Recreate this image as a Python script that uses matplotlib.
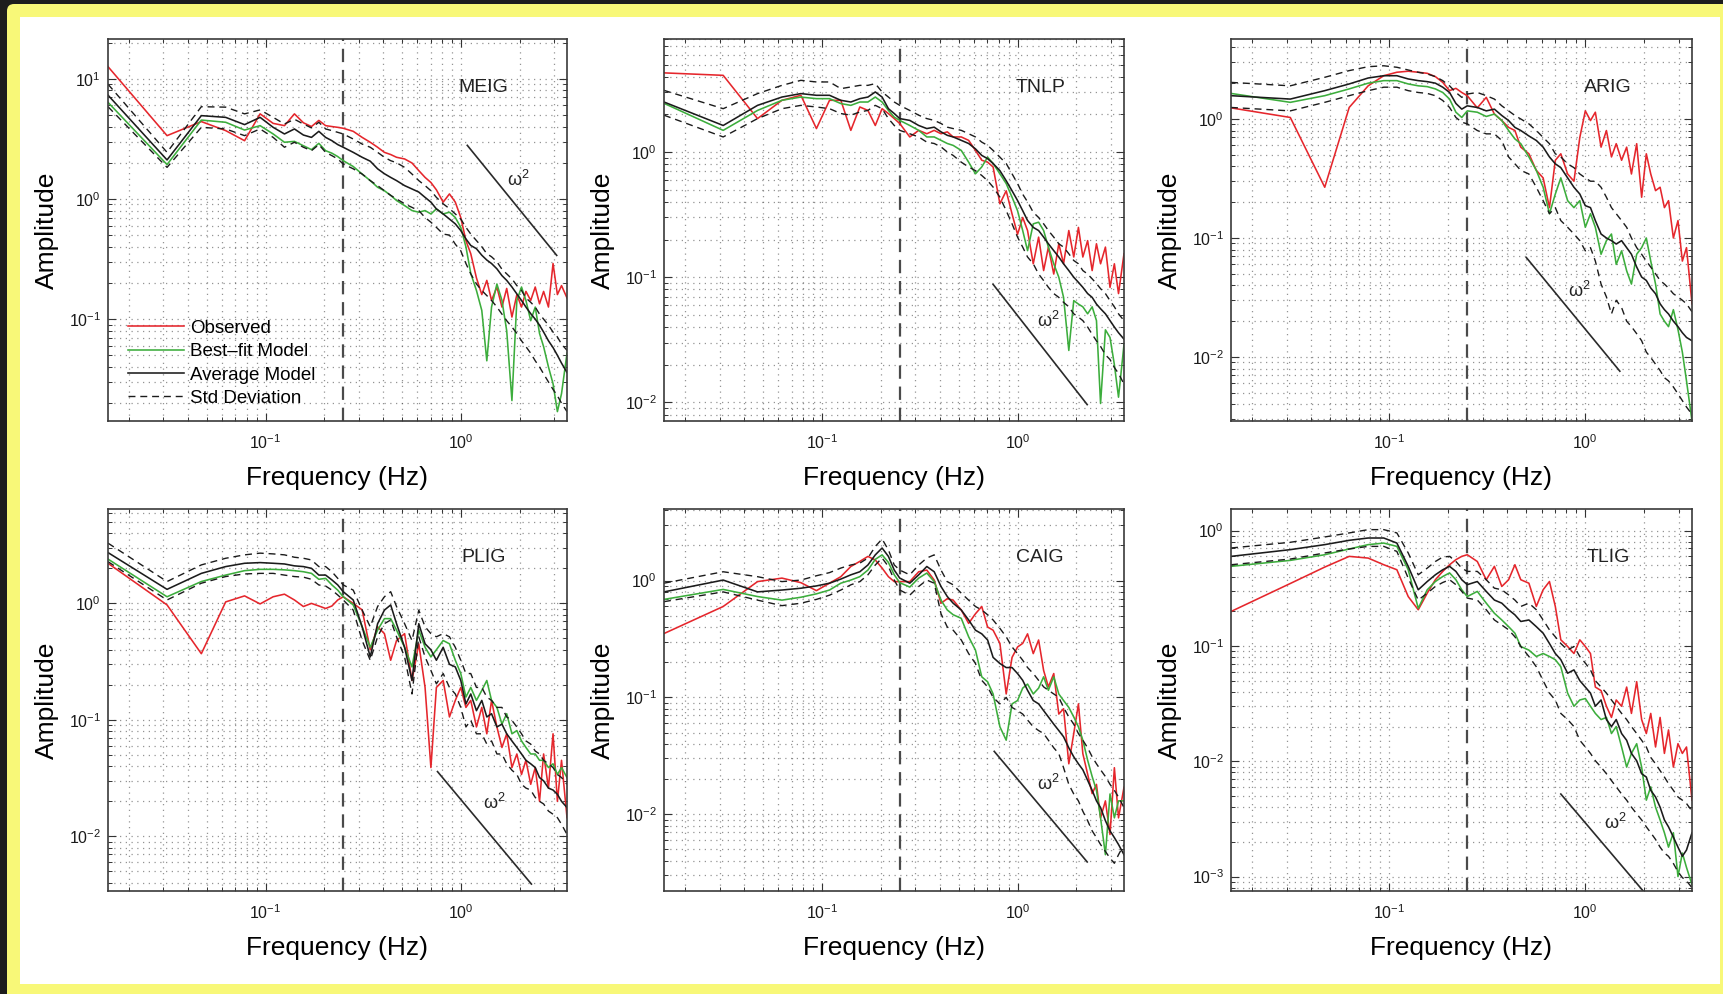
import numpy as np
import matplotlib
matplotlib.use("Agg")
import matplotlib.pyplot as plt
from matplotlib.patches import FancyBboxPatch, Rectangle
from matplotlib.ticker import LogLocator, NullFormatter

# ---------------------------------------------------------------- data
# FFT bin frequencies (Hz) shared by every station spectrum
freq_hz = [0.0156, 0.0313, 0.0469, 0.0625, 0.0781, 0.0938, 0.1094, 0.125,
           0.1406, 0.1563, 0.1719, 0.1875, 0.2031, 0.2188, 0.2344, 0.25,
           0.2813, 0.3125, 0.3438, 0.375, 0.4063, 0.4375, 0.4688, 0.5156,
           0.5625, 0.6094, 0.6563, 0.7031, 0.75, 0.8125, 0.875, 0.9375,
           1.0, 1.0625, 1.125, 1.2031, 1.2813, 1.3594, 1.4375, 1.5313,
           1.625, 1.7188, 1.8281, 1.9375, 2.0469, 2.1563, 2.2813, 2.4063,
           2.5313, 2.6563, 2.8125, 2.9688, 3.125, 3.2813, 3.5]

stations = ["MEIG", "TNLP", "ARIG", "PLIG", "CAIG", "TLIG"]

meig_obs = [12.6, 3.36, 4.4, 3.7, 3.05, 5.1, 4.25, 4.07, 5.1, 4.3, 4.0, 4.5, 4.07, 4.0, 3.94, 3.87,
            3.65, 3.25, 2.96, 2.69, 2.44, 2.34, 2.22, 2.15, 1.99, 1.72, 1.51, 1.37, 1.19, 0.94,
            1.1, 0.94, 0.70, 0.45, 0.35, 0.22, 0.16, 0.21, 0.143, 0.185, 0.126, 0.18, 0.104, 0.16,
            0.126, 0.17, 0.143, 0.185, 0.134, 0.17, 0.126, 0.29, 0.16, 0.19, 0.15]
meig_fit = [6.36, 1.93, 4.53, 4.34, 3.74, 4.07, 3.47, 2.96, 3.01, 2.77, 2.57, 2.9, 2.52, 2.4, 2.25, 2.08,
            1.86, 1.61, 1.42, 1.25, 1.17, 1.07, 0.97, 0.88, 0.80, 0.775, 0.80, 0.75, 0.826, 0.75,
            0.775, 0.70, 0.58, 0.40, 0.24, 0.173, 0.118, 0.045, 0.126, 0.196, 0.143, 0.08, 0.021,
            0.143, 0.185, 0.143, 0.097, 0.126, 0.076, 0.059, 0.04, 0.029, 0.017, 0.024, 0.052]
meig_avg = [7.3, 2.11, 4.93, 4.77, 4.15, 4.77, 3.94, 3.47, 3.82, 3.4, 3.25, 3.65, 3.25, 3.05, 2.83, 2.69,
            2.44, 2.22, 2.06, 1.78, 1.62, 1.51, 1.42, 1.29, 1.21, 1.14, 1.03, 0.94, 0.826, 0.75,
            0.68, 0.62, 0.545, 0.465, 0.41, 0.385, 0.34, 0.31, 0.29, 0.262, 0.23, 0.21, 0.185, 0.162,
            0.143, 0.126, 0.111, 0.10, 0.089, 0.078, 0.066, 0.058, 0.05, 0.043, 0.036]
meig_std_hi = [9.0, 2.44, 5.85, 5.8, 5.1, 5.5, 4.77, 4.2, 4.6, 4.2, 3.9, 4.34, 3.82, 3.7, 3.58, 3.47,
               3.15, 2.86, 2.69, 2.44, 2.22, 2.08, 2.0, 1.83, 1.61, 1.42, 1.29, 1.17, 1.03, 0.91,
               0.83, 0.75, 0.68, 0.58, 0.51, 0.45, 0.40, 0.35, 0.33, 0.30, 0.26, 0.238, 0.216, 0.19,
               0.173, 0.15, 0.138, 0.126, 0.11, 0.10, 0.089, 0.078, 0.071, 0.062, 0.055]
meig_std_lo = [5.85, 1.83, 3.94, 3.82, 3.36, 3.82, 3.25, 2.69, 2.96, 2.69, 2.52, 2.83, 2.44, 2.29, 2.15, 1.95,
               1.78, 1.61, 1.42, 1.29, 1.17, 1.07, 1.0, 0.91, 0.85, 0.80, 0.70, 0.64, 0.58, 0.51,
               0.50, 0.42, 0.37, 0.29, 0.238, 0.196, 0.173, 0.157, 0.143, 0.126, 0.11, 0.097, 0.086,
               0.076, 0.066, 0.059, 0.052, 0.045, 0.040, 0.035, 0.03, 0.026, 0.023, 0.02, 0.017]

tnlp_obs = [4.29, 4.1, 1.85, 2.59, 2.84, 1.54, 2.59, 2.59, 1.49, 2.29, 2.15, 1.63, 2.22, 2.03, 1.85, 1.69,
            1.32, 1.49, 1.40, 1.49, 1.40, 1.45, 1.32, 1.32, 1.24, 1.03, 0.86, 0.83, 0.76, 0.386,
            0.49, 0.32, 0.22, 0.30, 0.236, 0.128, 0.209, 0.113, 0.174, 0.106, 0.185, 0.128, 0.236,
            0.145, 0.25, 0.145, 0.196, 0.113, 0.185, 0.128, 0.174, 0.083, 0.128, 0.074, 0.154]
tnlp_fit = [2.45, 1.49, 2.15, 2.59, 2.75, 2.67, 2.67, 2.44, 2.36, 2.51, 2.51, 2.75, 2.51, 2.15, 1.9, 1.79,
            1.63, 1.49, 1.32, 1.32, 1.24, 1.17, 1.13, 1.03, 0.83, 0.67, 0.76, 0.91, 0.81, 0.67,
            0.56, 0.436, 0.34, 0.236, 0.163, 0.267, 0.275, 0.236, 0.174, 0.128, 0.1, 0.069, 0.026,
            0.065, 0.061, 0.058, 0.051, 0.058, 0.045, 0.0098, 0.038, 0.033, 0.02, 0.011, 0.029]
tnlp_avg = [2.51, 1.63, 2.36, 2.75, 2.93, 2.84, 2.84, 2.59, 2.51, 2.67, 2.75, 3.02, 2.75, 2.22, 2.03, 1.85,
            1.79, 1.63, 1.54, 1.58, 1.45, 1.36, 1.32, 1.24, 1.17, 1.06, 0.94, 0.885, 0.81, 0.71,
            0.59, 0.49, 0.41, 0.34, 0.284, 0.25, 0.236, 0.209, 0.185, 0.163, 0.145, 0.128, 0.113,
            0.1, 0.091, 0.083, 0.074, 0.069, 0.061, 0.056, 0.051, 0.045, 0.04, 0.036, 0.032]
tnlp_std_hi = [3.11, 2.22, 2.93, 3.41, 3.74, 3.63, 3.63, 3.21, 3.31, 3.41, 3.41, 3.52, 3.02, 2.75, 2.51, 2.36,
               2.15, 1.97, 1.85, 1.79, 1.69, 1.58, 1.54, 1.49, 1.40, 1.32, 1.20, 1.13, 1.03, 0.91,
               0.81, 0.67, 0.56, 0.46, 0.40, 0.33, 0.30, 0.267, 0.236, 0.209, 0.185, 0.174, 0.154,
               0.136, 0.128, 0.113, 0.106, 0.097, 0.089, 0.081, 0.074, 0.065, 0.058, 0.051, 0.045]
tnlp_std_lo = [1.97, 1.32, 1.85, 2.22, 2.36, 2.29, 2.22, 2.03, 1.97, 2.09, 2.15, 2.36, 2.22, 1.85, 1.63, 1.49,
               1.40, 1.32, 1.20, 1.17, 1.10, 1.0, 0.94, 0.83, 0.76, 0.71, 0.65, 0.59, 0.525, 0.436,
               0.34, 0.267, 0.209, 0.174, 0.145, 0.128, 0.106, 0.094, 0.083, 0.074, 0.069, 0.063,
               0.058, 0.051, 0.048, 0.045, 0.04, 0.035, 0.031, 0.028, 0.024, 0.022, 0.019, 0.017, 0.014]

arig_obs = [1.24, 1.03, 0.267, 1.25, 1.9, 2.31, 2.47, 2.52, 2.47, 2.42, 2.27, 2.03, 1.73, 1.81, 1.67, 1.57,
            1.24, 1.52, 1.10, 0.97, 0.85, 0.80, 0.58, 0.51, 0.37, 0.32, 0.18, 0.45, 0.51, 0.345,
            0.30, 0.70, 1.17, 0.97, 1.14, 0.58, 0.80, 0.48, 0.62, 0.45, 0.58, 0.345, 0.62, 0.22,
            0.51, 0.345, 0.25, 0.267, 0.18, 0.206, 0.10, 0.14, 0.064, 0.083, 0.028]
arig_fit = [1.64, 1.38, 1.57, 1.79, 2.0, 2.1, 2.1, 1.97, 1.9, 1.87, 1.79, 1.67, 1.47, 1.14, 1.03, 1.17,
            1.14, 1.05, 1.10, 0.97, 0.80, 0.68, 0.62, 0.48, 0.37, 0.267, 0.16, 0.234, 0.32, 0.206,
            0.18, 0.206, 0.123, 0.16, 0.123, 0.073, 0.095, 0.108, 0.060, 0.078, 0.053, 0.041, 0.073,
            0.083, 0.10, 0.064, 0.041, 0.023, 0.020, 0.018, 0.025, 0.017, 0.011, 0.0063, 0.0029]
arig_avg = [1.57, 1.47, 1.73, 1.97, 2.21, 2.31, 2.31, 2.17, 2.1, 2.06, 2.0, 1.85, 1.67, 1.35, 1.21, 1.29,
            1.25, 1.17, 1.21, 1.07, 0.97, 0.85, 0.80, 0.72, 0.66, 0.58, 0.48, 0.42, 0.39, 0.32,
            0.267, 0.234, 0.187, 0.18, 0.14, 0.108, 0.10, 0.095, 0.089, 0.095, 0.083, 0.073, 0.057,
            0.047, 0.044, 0.038, 0.034, 0.028, 0.025, 0.023, 0.020, 0.018, 0.016, 0.0146, 0.0137]
arig_std_hi = [2.03, 1.9, 2.24, 2.55, 2.75, 2.8, 2.72, 2.58, 2.47, 2.39, 2.27, 2.1, 1.9, 1.67, 1.52, 1.62,
               1.67, 1.57, 1.47, 1.29, 1.17, 1.07, 1.0, 0.91, 0.80, 0.70, 0.62, 0.51, 0.48, 0.42,
               0.39, 0.345, 0.32, 0.30, 0.30, 0.267, 0.22, 0.18, 0.16, 0.14, 0.123, 0.10, 0.083,
               0.073, 0.064, 0.057, 0.05, 0.044, 0.041, 0.038, 0.034, 0.032, 0.030, 0.028, 0.024]
arig_std_lo = [1.25, 1.17, 1.38, 1.57, 1.73, 1.85, 1.85, 1.73, 1.67, 1.64, 1.57, 1.43, 1.25, 1.03, 0.94, 0.91,
               0.80, 0.75, 0.75, 0.66, 0.48, 0.42, 0.37, 0.345, 0.267, 0.206, 0.16, 0.18, 0.14, 0.123,
               0.108, 0.095, 0.078, 0.083, 0.064, 0.041, 0.032, 0.023, 0.030, 0.026, 0.020, 0.018,
               0.0157, 0.0137, 0.011, 0.0099, 0.0087, 0.0077, 0.0067, 0.0063, 0.0056, 0.0049, 0.0043,
               0.0038, 0.0033]

plig_obs = [2.21, 0.97, 0.37, 1.03, 1.16, 0.99, 1.14, 1.2, 1.07, 0.94, 1.0, 0.95, 0.905, 0.95, 1.07, 1.14,
            1.0, 0.88, 0.40, 0.63, 0.55, 0.325, 0.48, 0.55, 0.218, 0.45, 0.19, 0.039, 0.19, 0.218,
            0.106, 0.147, 0.19, 0.128, 0.147, 0.087, 0.128, 0.076, 0.147, 0.087, 0.058, 0.076, 0.039,
            0.051, 0.034, 0.045, 0.028, 0.039, 0.020, 0.051, 0.026, 0.076, 0.020, 0.045, 0.0145]
plig_fit = [2.4, 1.14, 1.54, 1.75, 1.91, 1.96, 1.96, 1.94, 1.91, 1.87, 1.81, 1.61, 1.64, 1.44, 1.30, 1.14,
            0.97, 0.63, 0.42, 0.59, 0.74, 0.74, 0.59, 0.42, 0.285, 0.59, 0.42, 0.347, 0.40, 0.48,
            0.45, 0.325, 0.25, 0.157, 0.19, 0.147, 0.179, 0.218, 0.147, 0.128, 0.092, 0.113, 0.076,
            0.081, 0.066, 0.058, 0.051, 0.051, 0.045, 0.045, 0.039, 0.042, 0.034, 0.039, 0.032]
plig_avg = [2.73, 1.32, 1.81, 2.07, 2.21, 2.24, 2.21, 2.18, 2.1, 2.07, 2.0, 1.75, 1.75, 1.59, 1.44, 1.26,
            1.07, 0.63, 0.347, 0.67, 0.876, 0.97, 0.67, 0.42, 0.218, 0.67, 0.45, 0.40, 0.325, 0.42,
            0.30, 0.285, 0.218, 0.137, 0.167, 0.12, 0.147, 0.106, 0.113, 0.087, 0.092, 0.076, 0.066,
            0.058, 0.051, 0.045, 0.042, 0.039, 0.032, 0.030, 0.026, 0.025, 0.023, 0.020, 0.0177]
plig_std_hi = [3.29, 1.54, 2.14, 2.44, 2.61, 2.7, 2.66, 2.61, 2.49, 2.44, 2.36, 2.07, 2.07, 1.87, 1.64, 1.44,
               1.30, 0.876, 0.63, 0.94, 1.14, 1.26, 0.94, 0.67, 0.48, 0.876, 0.63, 0.55, 0.517, 0.55,
               0.517, 0.42, 0.325, 0.25, 0.25, 0.19, 0.19, 0.157, 0.147, 0.128, 0.128, 0.106, 0.099,
               0.087, 0.076, 0.066, 0.062, 0.054, 0.051, 0.045, 0.042, 0.039, 0.034, 0.032, 0.028]
plig_std_lo = [2.28, 1.07, 1.49, 1.7, 1.79, 1.81, 1.81, 1.75, 1.7, 1.68, 1.61, 1.44, 1.41, 1.30, 1.18, 1.07,
               0.876, 0.48, 0.325, 0.517, 0.67, 0.72, 0.517, 0.347, 0.167, 0.517, 0.347, 0.266, 0.204,
               0.25, 0.19, 0.167, 0.128, 0.087, 0.099, 0.076, 0.076, 0.062, 0.066, 0.051, 0.051, 0.042,
               0.037, 0.034, 0.028, 0.026, 0.025, 0.0216, 0.020, 0.019, 0.0165, 0.0155, 0.0145, 0.0127,
               0.0104]

caig_obs = [0.352, 0.60, 0.98, 1.05, 0.96, 0.82, 0.95, 1.08, 1.32, 1.46, 1.61, 1.5, 1.28, 1.08, 0.98, 0.98,
            0.98, 1.19, 1.23, 1.01, 0.64, 0.70, 0.68, 0.56, 0.43, 0.52, 0.60, 0.40, 0.376, 0.29,
            0.107, 0.22, 0.27, 0.29, 0.35, 0.237, 0.31, 0.17, 0.123, 0.16, 0.072, 0.08, 0.027, 0.049,
            0.088, 0.033, 0.022, 0.015, 0.018, 0.0093, 0.013, 0.0067, 0.025, 0.0093, 0.017]
caig_fit = [0.69, 0.84, 0.73, 0.68, 0.72, 0.77, 0.83, 0.95, 1.01, 1.08, 1.23, 1.52, 1.66, 1.43, 1.12, 0.96,
            0.88, 1.05, 1.16, 0.98, 0.68, 0.56, 0.51, 0.475, 0.33, 0.254, 0.15, 0.136, 0.107, 0.056,
            0.043, 0.088, 0.094, 0.12, 0.13, 0.107, 0.12, 0.15, 0.115, 0.15, 0.107, 0.094, 0.082,
            0.068, 0.056, 0.043, 0.029, 0.021, 0.016, 0.0093, 0.0045, 0.0149, 0.0093, 0.013, 0.013]
caig_avg = [0.80, 1.01, 0.80, 0.83, 0.86, 0.90, 0.95, 1.03, 1.12, 1.19, 1.36, 1.66, 1.9, 1.61, 1.23, 1.05,
            0.95, 1.12, 1.32, 1.19, 0.89, 0.73, 0.64, 0.56, 0.46, 0.376, 0.35, 0.31, 0.22, 0.195,
            0.18, 0.18, 0.16, 0.14, 0.115, 0.094, 0.088, 0.077, 0.068, 0.059, 0.052, 0.046, 0.037,
            0.031, 0.027, 0.024, 0.0195, 0.016, 0.013, 0.0114, 0.0088, 0.0072, 0.0063, 0.0055, 0.0045]
caig_std_hi = [0.95, 1.19, 1.08, 0.98, 1.01, 1.10, 1.17, 1.28, 1.36, 1.41, 1.56, 1.96, 2.27, 1.83, 1.36, 1.23,
               1.12, 1.36, 1.56, 1.66, 1.23, 0.98, 0.92, 0.78, 0.68, 0.60, 0.56, 0.51, 0.46, 0.39,
               0.33, 0.27, 0.237, 0.208, 0.18, 0.16, 0.14, 0.123, 0.115, 0.107, 0.10, 0.082, 0.068,
               0.059, 0.049, 0.043, 0.037, 0.031, 0.027, 0.024, 0.021, 0.018, 0.016, 0.014, 0.0114]
caig_std_lo = [0.66, 0.80, 0.68, 0.61, 0.64, 0.69, 0.75, 0.83, 0.92, 0.98, 1.12, 1.36, 1.56, 1.32, 1.01, 0.83,
               0.75, 0.89, 1.01, 0.95, 0.52, 0.40, 0.376, 0.31, 0.237, 0.195, 0.14, 0.123, 0.10, 0.088,
               0.10, 0.082, 0.077, 0.072, 0.064, 0.056, 0.052, 0.049, 0.043, 0.037, 0.033, 0.025, 0.018,
               0.0149, 0.013, 0.0106, 0.0088, 0.0072, 0.0063, 0.0055, 0.0048, 0.0042, 0.0038, 0.0045,
               0.0055]

tlig_obs = [0.199, 0.348, 0.483, 0.598, 0.578, 0.506, 0.458, 0.268, 0.206, 0.287, 0.375, 0.443, 0.506, 0.56,
            0.598, 0.618, 0.54, 0.375, 0.49, 0.328, 0.375, 0.506, 0.375, 0.35, 0.22, 0.307, 0.362,
            0.22, 0.113, 0.099, 0.086, 0.113, 0.099, 0.086, 0.044, 0.041, 0.030, 0.024, 0.034, 0.030,
            0.044, 0.026, 0.049, 0.023, 0.0174, 0.026, 0.0133, 0.024, 0.0117, 0.0187, 0.0089, 0.0142,
            0.0117, 0.0133, 0.0046]
tlig_fit = [0.49, 0.552, 0.618, 0.693, 0.756, 0.78, 0.73, 0.458, 0.212, 0.307, 0.362, 0.40, 0.43, 0.375,
            0.307, 0.268, 0.297, 0.235, 0.192, 0.168, 0.147, 0.129, 0.099, 0.092, 0.081, 0.086, 0.081,
            0.076, 0.066, 0.039, 0.030, 0.034, 0.035, 0.030, 0.026, 0.023, 0.024, 0.0174, 0.020,
            0.0133, 0.0089, 0.0117, 0.0142, 0.0089, 0.0046, 0.0060, 0.0040, 0.0031, 0.0024, 0.0018,
            0.0024, 0.0010, 0.0016, 0.0012, 0.00085]
tlig_avg = [0.598, 0.684, 0.756, 0.824, 0.863, 0.863, 0.78, 0.49, 0.307, 0.362, 0.414, 0.458, 0.49, 0.443,
            0.375, 0.34, 0.362, 0.297, 0.25, 0.235, 0.206, 0.186, 0.163, 0.168, 0.147, 0.129, 0.105,
            0.086, 0.076, 0.058, 0.062, 0.05, 0.044, 0.039, 0.030, 0.034, 0.023, 0.020, 0.023, 0.0174,
            0.0152, 0.0117, 0.0101, 0.0078, 0.0073, 0.0056, 0.0049, 0.0040, 0.0031, 0.0027, 0.0022,
            0.0018, 0.0015, 0.0017, 0.0024]
tlig_std_hi = [0.707, 0.792, 0.881, 0.955, 1.02, 1.02, 0.955, 0.64, 0.414, 0.473, 0.54, 0.59, 0.598, 0.54,
               0.473, 0.443, 0.443, 0.375, 0.317, 0.307, 0.277, 0.25, 0.22, 0.235, 0.206, 0.168, 0.138,
               0.12, 0.105, 0.092, 0.099, 0.081, 0.071, 0.062, 0.05, 0.044, 0.039, 0.034, 0.030, 0.026,
               0.023, 0.020, 0.0174, 0.0152, 0.0133, 0.0108, 0.0095, 0.0083, 0.0073, 0.0064, 0.0056,
               0.0049, 0.0046, 0.0043, 0.0037]
tlig_std_lo = [0.506, 0.567, 0.64, 0.693, 0.73, 0.73, 0.66, 0.387, 0.25, 0.287, 0.328, 0.355, 0.375, 0.34,
               0.297, 0.26, 0.25, 0.206, 0.168, 0.152, 0.138, 0.12, 0.099, 0.081, 0.066, 0.05, 0.039,
               0.034, 0.026, 0.023, 0.020, 0.0152, 0.0133, 0.0117, 0.0101, 0.0089, 0.0078, 0.0068,
               0.006, 0.0052, 0.0046, 0.004, 0.0035, 0.0031, 0.0027, 0.0024, 0.0021, 0.0018, 0.0016,
               0.0015, 0.0013, 0.0011, 0.00098, 0.00092, 0.0008]

# omega-squared reference segments: (f_start, f_end), (A_start, A_end)
omega_freq = [(1.08, 3.1), (0.75, 2.27), (0.50, 1.5), (0.76, 2.3), (0.76, 2.27), (0.75, 2.0)]
omega_amp = [(2.79, 0.339), (0.0877, 0.0096), (0.0686, 0.0076), (0.036, 0.0039),
             (0.0345, 0.0039), (0.0052, 0.00073)]
omega_label_at = [(1.72, 1.45), (1.25, 0.045), (0.82, 0.036), (1.30, 0.0195),
                  (1.25, 0.018), (1.25, 0.0029)]

corner_freq_hz = 0.25

legend_labels = ["Observed", "Best\u2013fit Model", "Average Model", "Std Deviation"]

spectra = {
    "MEIG": (meig_obs, meig_fit, meig_avg, meig_std_hi, meig_std_lo),
    "TNLP": (tnlp_obs, tnlp_fit, tnlp_avg, tnlp_std_hi, tnlp_std_lo),
    "ARIG": (arig_obs, arig_fit, arig_avg, arig_std_hi, arig_std_lo),
    "PLIG": (plig_obs, plig_fit, plig_avg, plig_std_hi, plig_std_lo),
    "CAIG": (caig_obs, caig_fit, caig_avg, caig_std_hi, caig_std_lo),
    "TLIG": (tlig_obs, tlig_fit, tlig_avg, tlig_std_hi, tlig_std_lo),
}

# ---------------------------------------------------------------- style
plt.rcParams["font.family"] = ["Liberation Sans", "DejaVu Sans"]
plt.rcParams["mathtext.fontset"] = "custom"
plt.rcParams["mathtext.rm"] = "Liberation Sans"
plt.rcParams["mathtext.it"] = "Liberation Sans:italic"
plt.rcParams["mathtext.bf"] = "Liberation Sans:bold"

RED = "#e5262c"
GREEN = "#3cad3c"
BLACK = "#1b1b1b"
W, H = 1724, 994

fig = plt.figure(figsize=(W / 100, H / 100), dpi=100)
fig.patch.set_facecolor("#1d1d1d")

# framed page background
bg = fig.add_axes([0, 0, 1, 1], zorder=-10)
bg.set_xlim(0, W)
bg.set_ylim(H, 0)
bg.axis("off")
bg.add_patch(FancyBboxPatch((7, 4), W + 60, H + 60,
                            boxstyle="round,pad=0,rounding_size=7",
                            fc="#f8f878", ec="none"))
bg.add_patch(Rectangle((20, 17), 1700, 967, fc="white", ec="none"))

lefts = [108, 664, 1231]
widths = [459, 460, 461]
tops = [39, 509]
height = 382
ylims = [(0.0142, 21.4), (0.0071, 8.0), (0.0029, 4.7),
         (0.0034, 6.46), (0.0022, 4.1), (0.00075, 1.54)]

for i, name in enumerate(stations):
    r, c = divmod(i, 3)
    rect = [lefts[c] / W, 1 - (tops[r] + height) / H, widths[c] / W, height / H]
    ax = fig.add_axes(rect)
    obs, fit, avg, hi, lo = spectra[name]

    l_obs, = ax.plot(freq_hz, obs, color=RED, lw=1.15)
    l_fit, = ax.plot(freq_hz, fit, color=GREEN, lw=1.15)
    l_avg, = ax.plot(freq_hz, avg, color=BLACK, lw=1.15)
    l_std, = ax.plot(freq_hz, hi, color=BLACK, lw=1.0, dashes=(5, 3.5))
    ax.plot(freq_hz, lo, color=BLACK, lw=1.0, dashes=(5, 3.5))

    ax.axvline(corner_freq_hz, color="#4a4a4a", lw=1.6, dashes=(6, 3.5), zorder=1)
    ax.plot(omega_freq[i], omega_amp[i], color="#2a2a2a", lw=1.2)
    ax.text(omega_label_at[i][0], omega_label_at[i][1], r"$\mathrm{\omega}^{2}$",
            fontsize=13, color="#222222", ha="left", va="center")
    ax.text(0.818, 0.872, name, transform=ax.transAxes, fontsize=14,
            color="#222222", ha="center", va="center")

    ax.set_xscale("log")
    ax.set_yscale("log")
    ax.set_xlim(0.0156, 3.5)
    ax.set_ylim(*ylims[i])

    for axis in (ax.xaxis, ax.yaxis):
        axis.set_major_locator(LogLocator(base=10, numticks=50))
        axis.set_minor_locator(LogLocator(base=10, subs=np.arange(2, 10), numticks=50))
        axis.set_minor_formatter(NullFormatter())

    ax.set_axisbelow(True)
    ax.grid(True, which="both", color="0.3", lw=0.9, ls=(0, (1, 3.6)), alpha=0.6)
    ax.tick_params(which="both", direction="in", top=True, right=True,
                   colors="#333333", labelcolor="#1a1a1a")
    ax.tick_params(which="major", length=6, width=0.8, labelsize=11.5)
    ax.tick_params(axis="x", which="major", pad=9)
    ax.tick_params(axis="y", which="major", pad=5)
    ax.tick_params(which="minor", length=3, width=0.7)
    for sp in ax.spines.values():
        sp.set_color("#3a3a3a")
        sp.set_linewidth(1.2)

    ax.set_xlabel("Frequency (Hz)", fontsize=19, labelpad=10)
    ax.set_ylabel("Amplitude", fontsize=19, labelpad=7)

    if i == 0:
        ax.legend([l_obs, l_fit, l_avg, l_std], legend_labels, loc="lower left",
                  bbox_to_anchor=(0.044, 0.037), frameon=False, fontsize=13.5,
                  handlelength=3.0, handletextpad=0.3, labelspacing=0.33,
                  borderpad=0, borderaxespad=0)

fig.savefig("out.png", dpi=100, facecolor=fig.get_facecolor())
